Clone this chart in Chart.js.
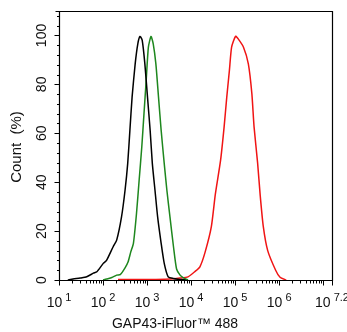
<!DOCTYPE html>
<html>
<head>
<meta charset="utf-8">
<script src="https://cdn.jsdelivr.net/npm/chart.js@4.4.1/dist/chart.umd.min.js"></script>
<style>
  body { margin: 0; background: #fff; }
  #wrap { width: 347px; height: 332px; }
</style>
</head>
<body>
<div id="wrap"><canvas id="hist"></canvas></div>
<script>
// x values are log10 of fluorescence, y values are Count (%)
const blackX = [1.20, 1.32, 1.48, 1.63, 1.78, 1.86, 2.01, 2.08, 2.23, 2.31, 2.42, 2.50, 2.56, 2.61, 2.66, 2.73, 2.79, 2.84, 2.89, 2.95, 3.01, 3.07, 3.12, 3.18, 3.24, 3.32, 3.39, 3.48, 3.60, 3.70, 3.88]
const blackY = [0, 0.4, 0.8, 1.3, 2.8, 3.4, 6.9, 8, 13.6, 16.3, 25.8, 36.7, 47.6, 61.2, 74.8, 88.4, 96.6, 99.6, 98, 88.4, 74.8, 61.2, 47.6, 36.7, 25.8, 15, 6.8, 1.3, 0.6, 0.3, 0]

const greenX = [2.00, 2.08, 2.20, 2.31, 2.39, 2.50, 2.57, 2.63, 2.69, 2.76, 2.82, 2.88, 2.93, 2.98, 3.03, 3.09, 3.14, 3.20, 3.26, 3.32, 3.39, 3.45, 3.52, 3.60, 3.67, 3.75, 3.82, 3.93]
const greenY = [0, 0.4, 1, 2, 2.2, 5, 7.5, 11.5, 15, 27.2, 40.8, 54.4, 68, 81.6, 95.2, 99.6, 96.6, 88.4, 74.8, 61.2, 47.6, 36.7, 25.8, 13.6, 4.5, 2, 1, 0]

const redX = [2.34, 3.07, 3.52, 3.75, 3.93, 4.09, 4.20, 4.32, 4.46, 4.55, 4.67, 4.75, 4.81, 4.87, 4.92, 5.01, 5.07, 5.19, 5.30, 5.38, 5.43, 5.51, 5.57, 5.64, 5.74, 5.92, 6.02, 6.16]
const redY = [0.2, 0.2, 0.4, 0.8, 1.3, 3.5, 5.4, 11.5, 21.8, 35, 49, 62.6, 74.8, 85.7, 95.2, 99.7, 98.6, 95.2, 88.4, 76.2, 62.6, 48, 34.5, 21.8, 12, 4, 1.1, 0]

const xTickExps = [1, 2, 3, 4, 5, 6, 7.2]
const yTicks = [0, 20, 40, 60, 80, 100]

function toPoints(xs, ys) {
    return xs.map((x, i) => ({x: x, y: ys[i]}))
}

// axes, ticks and labels drawn by hand so they look like the cytometry software
const axesPlugin = {
    id: 'axes',
    afterDraw(chart) {
        const ctx = chart.ctx
        const xs = chart.scales.x
        const ys = chart.scales.y
        const a = chart.chartArea
        const L = Math.round(a.left) + 0.5, R = Math.round(a.right) + 0.5
        const T = Math.round(a.top) + 0.5, B = Math.round(a.bottom) + 0.5
        ctx.save()
        ctx.strokeStyle = '#000'
        ctx.lineWidth = 1.2
        ctx.beginPath()
        ctx.moveTo(L - 4, T); ctx.lineTo(R, T); ctx.lineTo(R, B)
        ctx.lineTo(L, B); ctx.lineTo(L, T)
        ctx.stroke()

        // y ticks: major every 20, minor every 4
        ctx.lineWidth = 1
        ctx.beginPath()
        for (let v = 0; v <= 108; v += 4) {
            const py = Math.round(ys.getPixelForValue(v)) + 0.5
            const len = v % 20 === 0 ? 5 : 2.5
            ctx.moveTo(L, py); ctx.lineTo(L - len, py)
        }
        // x ticks: decades plus 2..9 minors
        for (let d = 1; d <= 7; d++) {
            for (let m = 1; m <= 9; m++) {
                const v = d + Math.log10(m)
                if (v > xs.max) break
                const px = Math.round(xs.getPixelForValue(v)) + 0.5
                const len = m === 1 ? 5 : 3
                ctx.moveTo(px, B); ctx.lineTo(px, B + len)
            }
        }
        const pxEnd = Math.round(xs.getPixelForValue(xs.max)) + 0.5
        ctx.moveTo(pxEnd, B); ctx.lineTo(pxEnd, B + 5)
        ctx.stroke()

        ctx.fillStyle = '#111'
        // y tick labels, rotated
        ctx.font = '14px "Liberation Sans", Arial, sans-serif'
        ctx.textAlign = 'center'
        ctx.textBaseline = 'middle'
        yTicks.forEach(v => {
            const py = ys.getPixelForValue(v)
            ctx.save()
            ctx.translate(42, py)
            ctx.rotate(-Math.PI / 2)
            ctx.fillText(String(v), 0, 0)
            ctx.restore()
        })

        // x tick labels: 10 with superscript exponent
        ctx.textBaseline = 'alphabetic'
        ctx.textAlign = 'left'
        xTickExps.forEach(e => {
            const px = xs.getPixelForValue(e)
            const base = '10'
            const sup = String(e)
            ctx.font = '14px "Liberation Sans", Arial, sans-serif'
            const wb = ctx.measureText(base).width
            ctx.font = '11px "Liberation Sans", Arial, sans-serif'
            const ws = ctx.measureText(sup).width
            const gap = 3
            const x0 = px - (wb + gap + ws) / 2
            ctx.font = '14px "Liberation Sans", Arial, sans-serif'
            ctx.fillText(base, x0, 307)
            ctx.font = '11px "Liberation Sans", Arial, sans-serif'
            ctx.fillText(sup, x0 + wb + gap, 301)
        })

        // axis titles
        ctx.font = '14px "Liberation Sans", Arial, sans-serif'
        ctx.textAlign = 'center'
        ctx.fillText('GAP43-iFluor\u2122 488', 175, 328)
        ctx.save()
        ctx.translate(17, 147)
        ctx.rotate(-Math.PI / 2)
        ctx.font = '15px "Liberation Sans", Arial, sans-serif'
        ctx.textBaseline = 'middle'
        ctx.fillText('Count  (%)', 0, 0)
        ctx.restore()
        ctx.restore()
    }
}

const ctx = document.getElementById('hist')
const histChart = new Chart(ctx, {
    type: 'line',
    data: {
        datasets: [
            {label: 'control', data: toPoints(blackX, blackY), borderColor: '#000000'},
            {label: 'isotype', data: toPoints(greenX, greenY), borderColor: 'rgb(30, 135, 30)'},
            {label: 'GAP43', data: toPoints(redX, redY), borderColor: 'rgb(240, 20, 20)'}
        ]
    },
    options: {
        responsive: true,
        maintainAspectRatio: false,
        animation: false,
        layout: {padding: {left: 59, right: 15, top: 11, bottom: 52}},
        elements: {
            line: {borderWidth: 1.5, tension: 0.2},
            point: {radius: 0}
        },
        scales: {
            x: {type: 'linear', min: 1, max: 7.2, display: false},
            y: {min: 0, max: 110, display: false}
        },
        plugins: {
            legend: {display: false},
            tooltip: {enabled: false}
        }
    },
    plugins: [axesPlugin]
})
</script>
</body>
</html>
